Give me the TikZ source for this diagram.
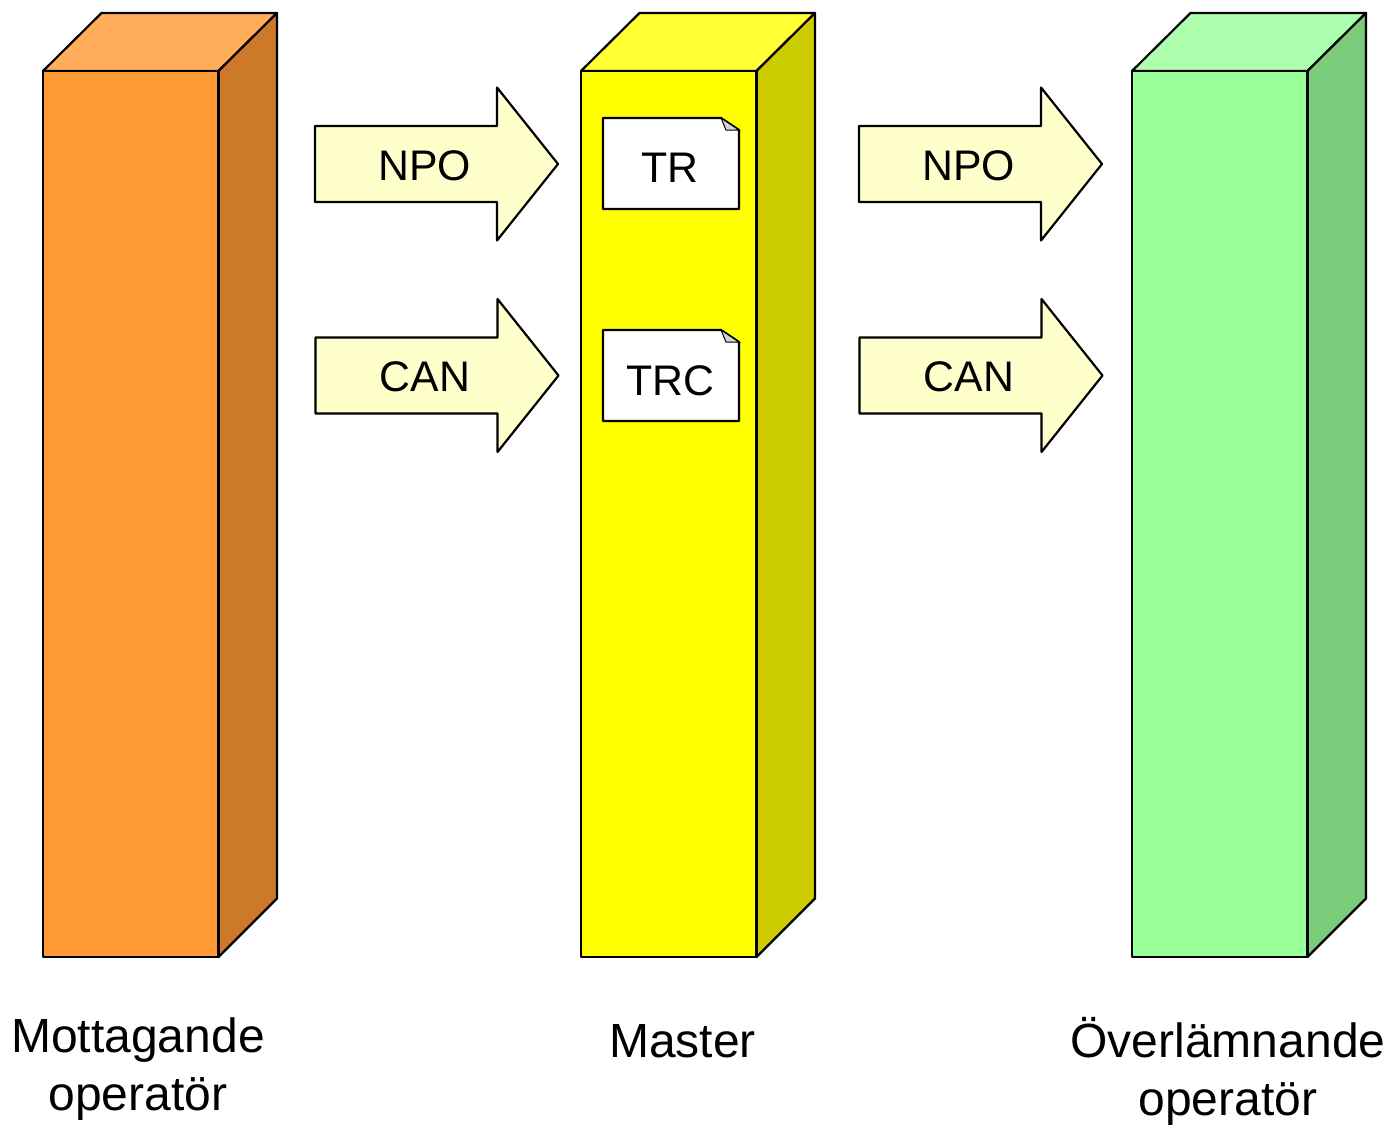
\documentclass[tikz,border=0pt]{standalone}
\usepackage{fontspec}
\setmainfont{Liberation Sans}
\newcommand{\blockarrow}[4]{% x, y centre, name, text
  \draw[edge,fill=arrowfill] (#1,#2-38) -- (#1+182,#2-38) -- (#1+182,#2-76.5) -- (#1+243,#2) -- (#1+182,#2+76.5) -- (#1+182,#2+38) -- (#1,#2+38) -- cycle;
  \node[midlabel] (#3) at (#1+109.5,#2+1.5) {#4};
}
\definecolor{orF}{RGB}{255,153,51}
\definecolor{orT}{RGB}{255,173,91}
\definecolor{orS}{RGB}{204,122,41}
\definecolor{yeF}{RGB}{255,255,0}
\definecolor{yeT}{RGB}{255,255,51}
\definecolor{yeS}{RGB}{204,204,0}
\definecolor{grF}{RGB}{153,255,153}
\definecolor{grT}{RGB}{173,255,173}
\definecolor{grS}{RGB}{122,204,122}
\definecolor{arrowfill}{RGB}{255,255,204}
\tikzset{
  x=1pt,y=-1pt,
  edge/.style={draw=black,line width=2.2pt,line join=round},
  midlabel/.style={font=\fontsize{42.8}{46}\selectfont,text=black,inner sep=0pt,anchor=center},
  caption/.style={font=\fontsize{48}{58}\selectfont,text=black,inner sep=0pt,align=center,anchor=center},
}
\begin{document}
\begin{tikzpicture}
\useasboundingbox (0,0) rectangle (1395,1127);
\foreach \xx/\ff/\tt/\ss in {43/orF/orT/orS,581/yeF/yeT/yeS,1132/grF/grT/grS}{
  \draw[edge,fill=\tt] (\xx,71) -- (\xx+58.5,13) -- (\xx+234,13) -- (\xx+175.5,71) -- cycle;
  \draw[edge,fill=\ss] (\xx+175.5,71) -- (\xx+234,13) -- (\xx+234,898.5) -- (\xx+175.5,957) -- cycle;
  \draw[edge,fill=\ff] (\xx,71) rectangle (\xx+175.5,957);
}
\blockarrow{315}{164}{anpo}{NPO}
\blockarrow{315.5}{375.5}{acan}{CAN}
\blockarrow{859}{164}{bnpo}{NPO}
\blockarrow{859.5}{375.5}{bcan}{CAN}
\draw[edge,fill=white] (603,118) -- (721,118) -- (739,130) -- (739,209) -- (603,209) -- cycle;
\draw[line width=1pt,fill=gray!35] (721,118) -- (739,130) -- (726,130) -- cycle;
\node[midlabel] (tr) at (670,168) {TR};
\draw[edge,fill=white] (603,330) -- (721,330) -- (739,342) -- (739,421) -- (603,421) -- cycle;
\draw[line width=1pt,fill=gray!35] (721,330) -- (739,342) -- (726,342) -- cycle;
\node[midlabel] (trc) at (670.5,380.5) {TRC};
\node[caption] (mott) at (138,1069) {Mottagande\\operatör};
\node[caption] (master) at (682.5,1041) {Master};
\node[caption] (over) at (1228,1071) {Överlämnande\\operatör};
\end{tikzpicture}
\end{document}
